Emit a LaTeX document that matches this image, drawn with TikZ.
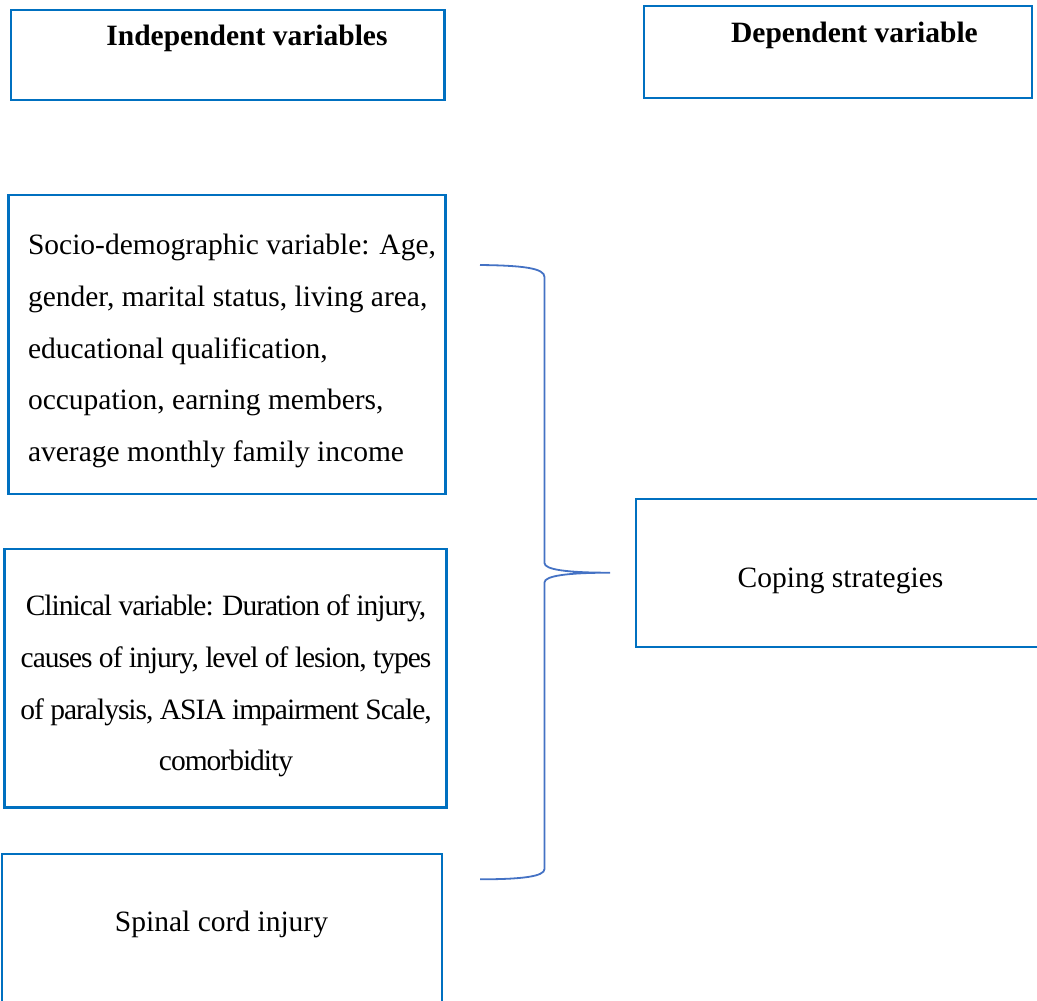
\documentclass[tikz,border=0pt]{standalone}
\usepackage{fontspec}
\setmainfont{Liberation Serif}
\newfontfamily\condfont[LetterSpace=-3.4]{Liberation Serif}
\definecolor{boxblue}{HTML}{0070C0}
\definecolor{bracecol}{HTML}{4472C4}
\begin{document}
\begin{tikzpicture}[x=1pt,y=-1pt,
  vbox/.style={draw=boxblue, line width=2.2pt, rectangle, inner sep=0pt, outer sep=0pt},
  txt/.style={inner sep=0pt, outer sep=0pt, font=\fontsize{29.5}{51.7}\selectfont},
  hd/.style={txt, font=\fontsize{29.5}{51.7}\selectfont\bfseries}]
\useasboundingbox (0,0) rectangle (1037,1001);
\clip (0,0) rectangle (1037,1001);
% boxes
\node[vbox, minimum width=433.5pt, minimum height=90pt] (indep) at (227.75,55) {};
\node[vbox, minimum width=388pt, minimum height=91.7pt] (dep) at (838,51.85) {};
\node[vbox, minimum width=437pt, minimum height=299pt] (socio) at (227,344.5) {};
\node[vbox, minimum width=442pt, minimum height=258.5pt] (clin) at (225.5,678.25) {};
\node[vbox, minimum width=440.3pt, minimum height=156pt] (spinal) at (221.85,932) {};
\node[vbox, minimum width=409.3pt, minimum height=148.3pt] (coping) at (840.35,573.15) {};
% texts
\node[hd] (indepT) at (247,38.5) {Independent variables};
\node[hd] (depT) at (854.5,35) {Dependent variable};
\node[txt, anchor=west, align=left] (socioT) at (28,351) {Socio-demographic variable: Age,\\gender, marital status, living area,\\educational qualification,\\occupation, earning members,\\average monthly family income};
\node[txt, align=center, font=\fontsize{29.5}{51.7}\selectfont\condfont] (clinT) at (226,686) {Clinical variable: Duration of injury,\\causes of injury, level of lesion, types\\of paralysis, ASIA impairment Scale,\\comorbidity};
\node[txt] (copT) at (840.5,580.5) {Coping strategies};
\node[txt] (spinT) at (221.5,924.5) {Spinal cord injury};
% brace
\coordinate (bTop) at (480,265);
\coordinate (bTip) at (610,572.7);
\coordinate (bBot) at (480,879.3);
\draw[bracecol, line width=1.8pt]
  (bTop) .. controls (522,265.5) and (544.5,268) .. (544.5,277)
  -- (544.5,563)
  .. controls (544.5,569.5) and (566,572.7) .. (bTip)
  .. controls (566,572.7) and (544.5,576) .. (544.5,582.5)
  -- (544.5,869)
  .. controls (544.5,876.5) and (522,879.3) .. (bBot);
\end{tikzpicture}
\end{document}
